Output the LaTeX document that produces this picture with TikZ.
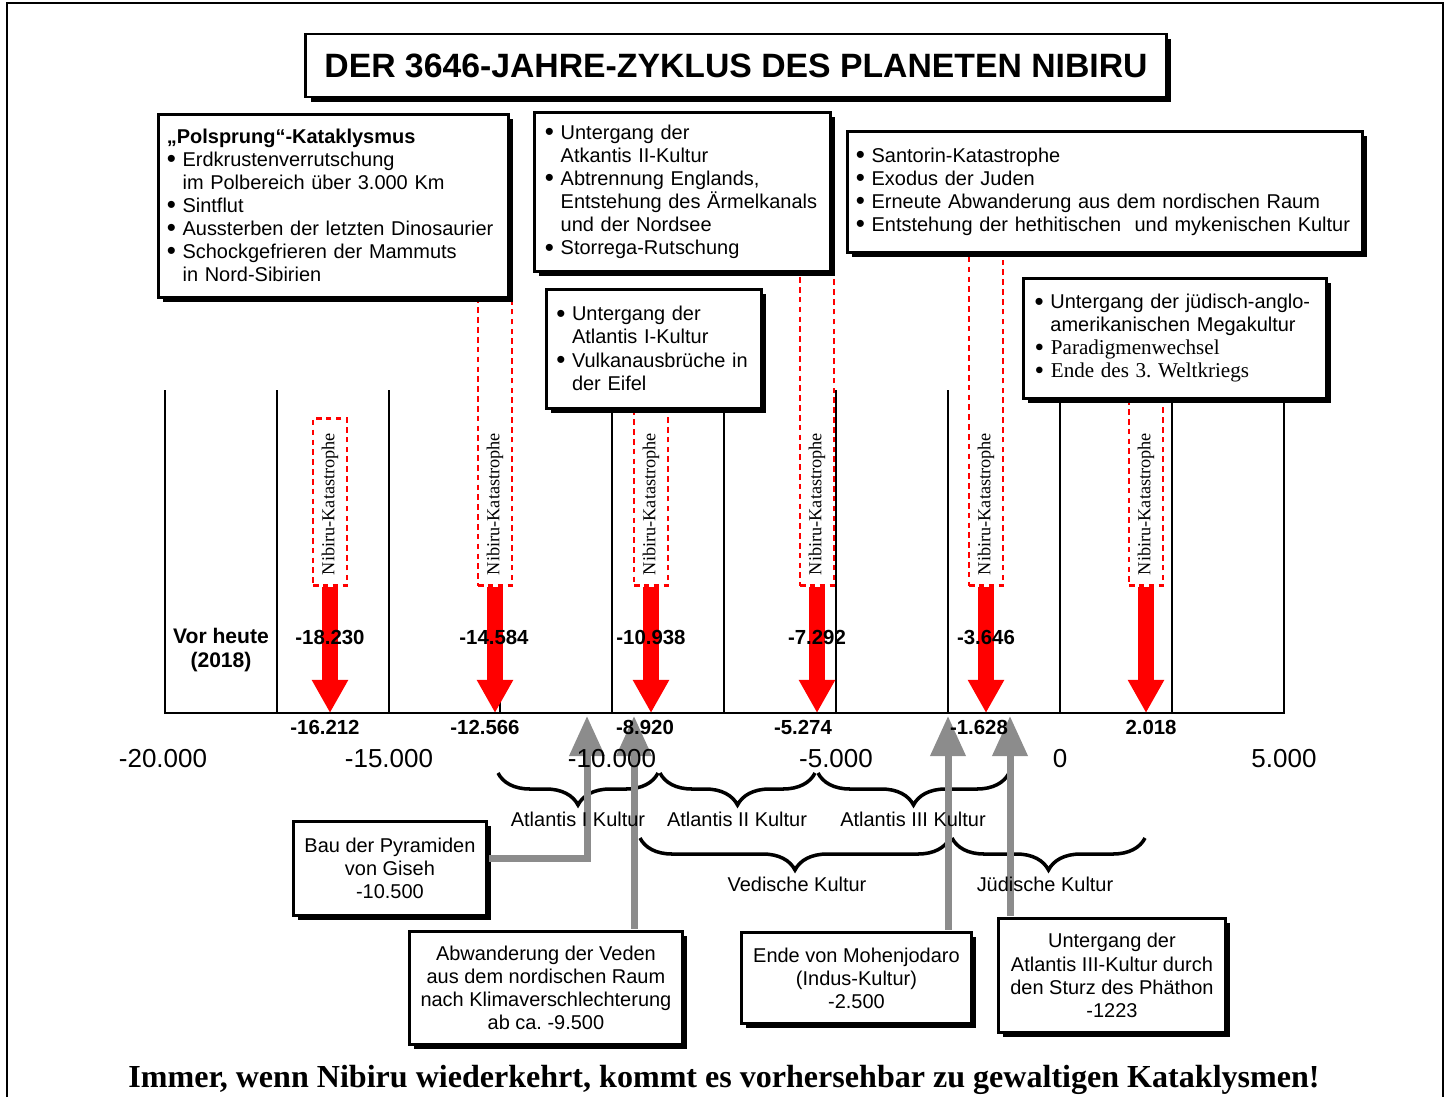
\documentclass[tikz,border=0pt]{standalone}
\usepackage{fontspec}
\setmainfont{Liberation Sans}
\newfontfamily\timesfont{Liberation Serif}
\usepackage{tikz}
\usetikzlibrary{arrows.meta, shadows, decorations.pathreplacing}
\definecolor{pfeilgrau}{RGB}{140,140,140}
\frenchspacing
\newcommand{\pkt}{\raisebox{-0.12ex}{\scalebox{1.3}{\textbullet}}\ }
\newcommand{\einr}{\phantom{\pkt}}
\newcommand{\tms}{\timesfont\fontsize{15}{17}\selectfont}

\begin{document}
\begin{tikzpicture}[x=0.025cm, y=-0.025cm,
  box/.style = {draw, line width=2pt, fill=white, anchor=north west,
    drop shadow={shadow xshift=3.5pt, shadow yshift=-3.5pt, fill=black, opacity=1},
    font=\fontsize{14.2}{16.4}\selectfont},
  liste/.style = {box, align=left, inner xsep=8pt, inner ysep=0pt},
  mitte/.style = {box, align=center},
  kat/.style = {draw=red, line width=2pt, dash pattern=on 4pt off 3pt, fill=white,
    minimum width=0.85cm, inner sep=0pt, anchor=south},
  katlabel/.style = {rotate=90, font=\timesfont\fontsize{13}{13}\selectfont},
  katpfeil/.style = {red, line width=0.42cm, -{Triangle[width=0.85cm, length=0.825cm]}},
  grau/.style = {pfeilgrau, line width=0.175cm, shorten <=1pt,
    -{Triangle[width=0.85cm, length=1cm]}},
  klammer/.style = {decorate, decoration={brace, mirror, amplitude=0.8cm}, line width=2.5pt},
  kultur/.style = {font=\fontsize{14.2}{16.4}\selectfont},
  zahl/.style = {font=\bfseries\fontsize{14.5}{17}\selectfont},
  achse/.style = {font=\fontsize{18.5}{20}\selectfont}]

  \useasboundingbox (0,0) rectangle (1451,1097);
  \draw[line width=2pt] (7,1097) -- (7,3) -- (1443,3) -- (1443,1097);

  \foreach \x in {165,277,389,500,612,724,836,948,1060,1172,1284}
    \draw[line width=2pt] (\x,390) -- (\x,713);
  \draw[line width=2pt, line cap=rect] (165,713) -- (1284,713);

  \foreach \x/\oben [count=\n] in {330/420, 495/290, 651/400, 817/265, 986/245, 1146/390} {
    \node[kat, minimum height={(587-\oben)*0.025cm}] (kat\n) at (\x,587) {};
    \node[katlabel] (name\n) at (\x,504) {Nibiru-Katastrophe};
    \coordinate (tip\n) at (\x,713);
  }

  \node[liste] (pol) [inner xsep=6pt, text width=8.33cm, minimum height=4.575cm] at (157,113)
    {\textbf{„Polsprung“-Kataklysmus}\\ \pkt Erdkrustenverrutschung\\
     \einr im Polbereich über 3.000 Km\\ \pkt Sintflut\\
     \pkt Aussterben der letzten Dinosaurier\\ \pkt Schockgefrieren der Mammuts\\
     \einr in Nord-Sibirien};
  \node[liste] (atl2) [inner xsep=7.5pt, text width=6.87cm, minimum height=3.975cm] at (533,111)
    {\pkt Untergang der\\ \einr Atkantis II-Kultur\\ \pkt Abtrennung Englands,\\
     \einr Entstehung des Ärmelkanals\\ \einr und der Nordsee\\ \pkt Storrega-Rutschung};
  \node[liste] (santo) [inner xsep=6pt, text width=12.45cm, minimum height=3.025cm] at (846,130)
    {\pkt Santorin-Katastrophe\\ \pkt Exodus der Juden\\
     \pkt Erneute Abwanderung aus dem nordischen Raum\\
     \pkt Entstehung der hethitischen\ \ und mykenischen Kultur};
  \node[liste] (atl1) [inner xsep=7pt, text width=4.88cm, minimum height=2.975cm] at (545,288)
    {\pkt Untergang der\\ \einr Atlantis I-Kultur\\ \pkt Vulkanausbrüche in\\ \einr der Eifel};
  \node[liste] (mega) [text width=7.01cm, minimum height=3cm] at (1022,277)
    {\pkt Untergang der jüdisch-anglo-\\ \einr amerikanischen Megakultur\\
     {\tms \pkt Paradigmenwechsel}\\ {\tms \pkt Ende des 3. Weltkriegs}};

  \node[box, anchor=center, minimum width=21.5cm, minimum height=1.575cm,
    font=\bfseries\fontsize{24}{28}\selectfont] (titel) at (736,65.5)
    {DER 3646-JAHRE-ZYKLUS DES PLANETEN NIBIRU};

  \draw[klammer] (498,773) -- (658,773);
  \draw[klammer] (660,773) -- (815,773);
  \draw[klammer] (818,773) -- (1009,773);
  \draw[klammer] (640,838) -- (950,838);
  \draw[klammer] (952,838) -- (1145,838);

  \node[mitte] (bau) [minimum width=4.825cm, minimum height=2.35cm] at (292,820)
    {Bau der Pyramiden\\ von Giseh\\ -10.500};
  \node[mitte] (abw) [minimum width=6.825cm, minimum height=2.825cm] at (408,930)
    {Abwanderung der Veden\\ aus dem nordischen Raum\\ nach Klimaverschlechterung\\ ab ca. -9.500};
  \node[mitte] (mohen) [minimum width=5.75cm, minimum height=2.275cm] at (740,931)
    {Ende von Mohenjodaro\\ (Indus-Kultur)\\ -2.500};
  \node[mitte] (phaeton) [minimum width=5.675cm, minimum height=2.85cm] at (997,917)
    {Untergang der\\ Atlantis III-Kultur durch\\ den Sturz des Phäthon\\ -1223};

  \coordinate (pyr) at (587,716);
  \coordinate (veden) at (634,716);
  \coordinate (indus) at (948,716);
  \coordinate (sturz) at (1010,716);
  \draw[grau] ([yshift=7pt]bau.east) -| (pyr);
  \draw[grau] (abw.north -| veden) -- (veden);
  \draw[grau] (mohen.north -| indus) -- (indus);
  \draw[grau] (phaeton.north -| sturz) -- (sturz);

  \foreach \n in {1,...,6}
    \draw[katpfeil] (kat\n.south) -- (tip\n);

  \node[kultur] (k1) at (578,819) {Atlantis I Kultur};
  \node[kultur] (k2) at (737,819) {Atlantis II Kultur};
  \node[kultur] (k3) at (913,819) {Atlantis III Kultur};
  \node[kultur] (k4) at (797,884) {Vedische Kultur};
  \node[kultur] (k5) at (1045,884) {Jüdische Kultur};

  \node[zahl, font=\bfseries\fontsize{15}{17.7}\selectfont, align=center] (heute) at (221,650)
    {Vor heute\\(2018)};
  \foreach \x/\z [count=\i] in {330/-18.230, 494/-14.584, 651/-10.938, 817/-7.292, 986/-3.646}
    \node[zahl] (oben\i) at (\x,637) {\z};
  \foreach \x/\z [count=\i] in {325/-16.212, 485/-12.566, 645/-8.920, 803/-5.274, 979/-1.628, 1151/2.018}
    \node[zahl] (unten\i) at (\x,727) {\z};
  \foreach \x/\z [count=\i] in {163/-20.000, 389/-15.000, 612/-10.000, 836/-5.000, 1060/0, 1284/5.000}
    \node[achse] (achse\i) at (\x,759) {\z};

  \node[font=\timesfont\bfseries\fontsize{22.8}{26}\selectfont] (fazit) at (724,1080)
    {Immer, wenn Nibiru wiederkehrt, kommt es vorhersehbar zu gewaltigen Kataklysmen!};
\end{tikzpicture}
\end{document}
